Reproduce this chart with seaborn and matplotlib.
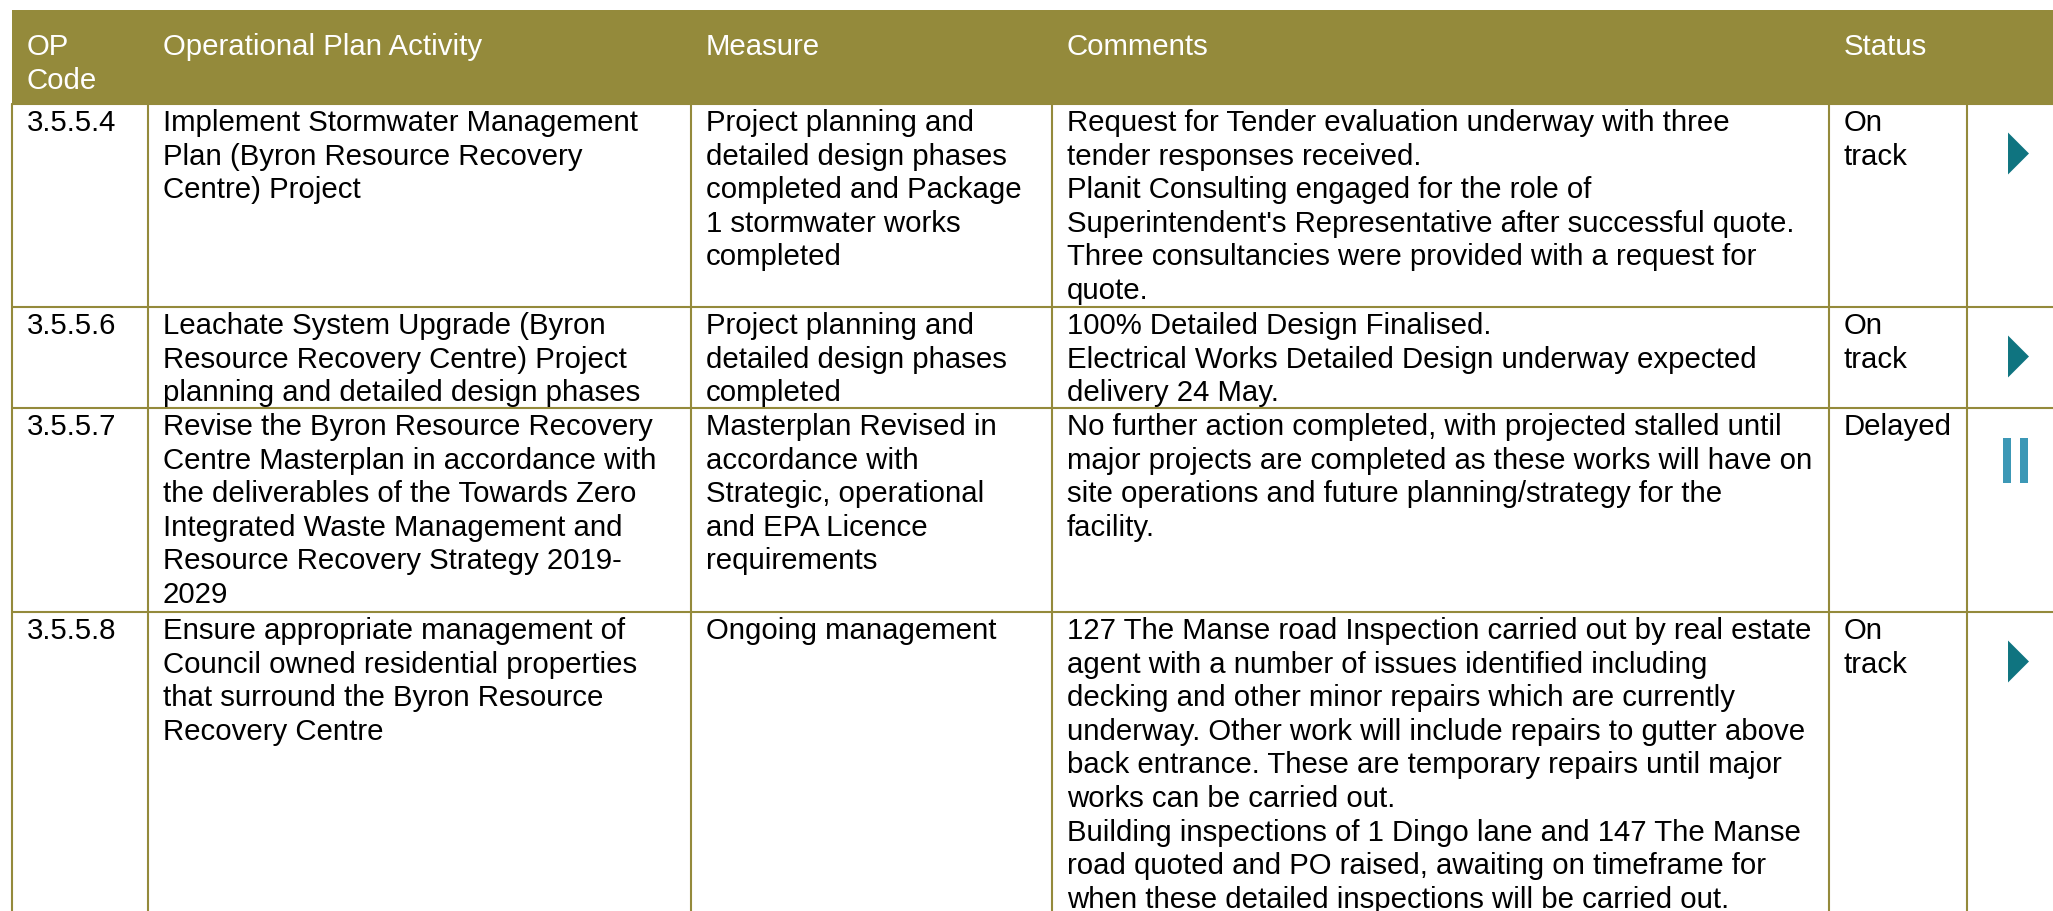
import numpy as np
import matplotlib.pyplot as plt
import seaborn as sns
from matplotlib.patches import Rectangle

# table content
headers = ['OP\nCode', 'Operational Plan Activity', 'Measure', 'Comments', 'Status']
codes = ['3.5.5.4', '3.5.5.6', '3.5.5.7', '3.5.5.8']
activities = [
    'Implement Stormwater Management\nPlan (Byron Resource Recovery\nCentre) Project',
    'Leachate System Upgrade (Byron\nResource Recovery Centre) Project\nplanning and detailed design phases',
    'Revise the Byron Resource Recovery\nCentre Masterplan in accordance with\nthe deliverables of the Towards Zero\n'
    'Integrated Waste Management and\nResource Recovery Strategy 2019-\n2029',
    'Ensure appropriate management of\nCouncil owned residential properties\nthat surround the Byron Resource\nRecovery Centre',
]
measures = [
    'Project planning and\ndetailed design phases\ncompleted and Package\n1 stormwater works\ncompleted',
    'Project planning and\ndetailed design phases\ncompleted',
    'Masterplan Revised in\naccordance with\nStrategic, operational\nand EPA Licence\nrequirements',
    'Ongoing management',
]
comments = [
    'Request for Tender evaluation underway with three\ntender responses received.\n'
    'Planit Consulting engaged for the role of\nSuperintendent\'s Representative after successful quote.\n'
    'Three consultancies were provided with a request for\nquote.',
    '100% Detailed Design Finalised.\nElectrical Works Detailed Design underway expected\ndelivery 24 May.',
    'No further action completed, with projected stalled until\nmajor projects are completed as these works will have on\n'
    'site operations and future planning/strategy for the\nfacility.',
    '127 The Manse road Inspection carried out by real estate\nagent with a number of issues identified including\n'
    'decking and other minor repairs which are currently\nunderway. Other work will include repairs to gutter above\n'
    'back entrance. These are temporary repairs until major\nworks can be carried out.\n'
    'Building inspections of 1 Dingo lane and 147 The Manse\nroad quoted and PO raised, awaiting on timeframe for\n'
    'when these detailed inspections will be carried out.',
]
statuses = ['On\ntrack', 'On\ntrack', 'Delayed', 'On\ntrack']
icons = ['play', 'play', 'pause', 'play']

# layout (pixels)
col_edges = [12, 148, 691, 1052, 1829, 1967, 2053]
header_top, header_bottom = 10, 104
row_edges = [104, 307, 408, 612, 911]
pad_x = 15
first_base = 27
line_step = 33.6

olive = '#948A3B'
teal = '#0F7480'
light_teal = '#3C98B6'

sns.set_theme(style='white')
plt.rcParams['font.family'] = ['Liberation Sans', 'DejaVu Sans']
fs = 21.2

fig = plt.figure(figsize=(20.53, 9.11), dpi=100)
ax = fig.add_axes([0, 0, 1, 1])
ax.set_xlim(0, 2053)
ax.set_ylim(911, 0)
ax.axis('off')

# header band
ax.add_patch(Rectangle((col_edges[0], header_top), 2053 - col_edges[0], header_bottom - header_top,
                       color=olive, lw=0))


def cell_text(x, top, txt, color='black'):
    for i, line in enumerate(txt.split('\n')):
        ax.text(x, top + first_base + i * line_step, line, fontsize=fs, color=color,
                ha='left', va='baseline')


for j, h in enumerate(headers):
    cell_text(col_edges[j] + pad_x, header_top + 18, h, color='white')

# grid lines
for y in row_edges[:-1]:
    ax.plot([col_edges[0], 2053], [y, y], color=olive, lw=1.5)
for x in col_edges[:-1]:
    ax.plot([x, x], [header_bottom, 911], color=olive, lw=1.5)

columns = [codes, activities, measures, comments, statuses]
icon_x = col_edges[5] + 50.5
for r in range(len(codes)):
    top = row_edges[r]
    for j, col in enumerate(columns):
        cell_text(col_edges[j] + pad_x, top, col[r])
    if icons[r] == 'play':
        ax.scatter([icon_x], [top + 49], marker=[(-0.25, -0.5), (0.25, 0), (-0.25, 0.5)],
                   s=30.2 ** 2, color=teal, linewidths=0)
    else:
        for dx in (-15, 2):
            ax.add_patch(Rectangle((icon_x + dx, top + 30), 8.5, 45, color=light_teal, lw=0))

fig.savefig('out.png', dpi=100)
